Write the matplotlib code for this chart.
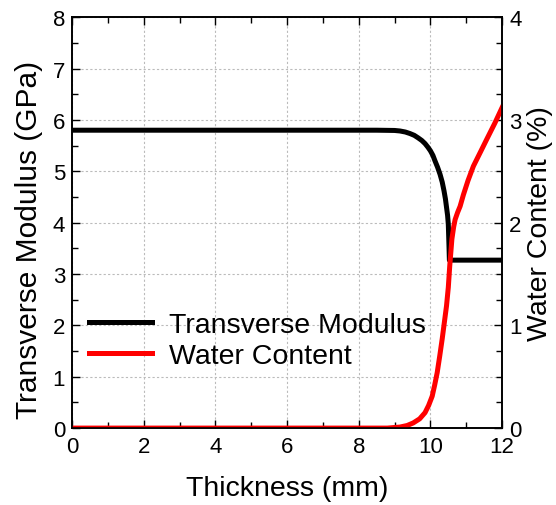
import matplotlib
matplotlib.use("Agg")
import matplotlib.pyplot as plt
from matplotlib.ticker import MultipleLocator

plt.rcParams['font.family'] = ['Liberation Sans', 'DejaVu Sans']

# transverse modulus (GPa) vs thickness (mm)
mod_x = [0, 8.5, 9.0, 9.15, 9.3, 9.43, 9.55, 9.66, 9.76, 9.85, 9.93, 10.0, 10.07, 10.13,
         10.2, 10.27, 10.33, 10.38, 10.42, 10.45, 10.48, 10.5, 10.52, 10.53, 12.0]
mod_y = [5.8, 5.8, 5.795, 5.785, 5.765, 5.735, 5.7, 5.65, 5.6, 5.54, 5.47, 5.4, 5.31, 5.2,
         5.08, 4.94, 4.79, 4.62, 4.46, 4.3, 4.14, 3.97, 3.52, 3.27, 3.27]

# water content (%) vs thickness (mm)
wc_x = [0, 8.8, 9.15, 9.35, 9.52, 9.7, 9.85, 9.95, 10.05, 10.12, 10.19, 10.26, 10.33, 10.39,
        10.45, 10.5, 10.54, 10.6, 10.65, 10.69, 10.76, 10.83, 10.92, 11.05, 11.2, 11.4,
        11.57, 11.8, 12.0]
wc_y = [0, 0.0, 0.01, 0.025, 0.05, 0.09, 0.15, 0.22, 0.31, 0.42, 0.54, 0.7, 0.87, 1.03,
        1.19, 1.37, 1.58, 1.84, 1.96, 2.03, 2.1, 2.16, 2.27, 2.41, 2.55, 2.69,
        2.81, 2.97, 3.12]

fig = plt.figure(figsize=(5.56, 5.06), dpi=100)
ax = fig.add_axes([0.1295, 0.152, 0.7735, 0.812])
ax2 = ax.twinx()

l1, = ax.plot(mod_x, mod_y, color='black', lw=3.6, label='Transverse Modulus', solid_joinstyle='round')
l2, = ax2.plot(wc_x, wc_y, color='red', lw=3.6, label='Water Content', solid_joinstyle='round')

ax.set_xlim(0, 12)
ax.set_ylim(0, 8)
ax2.set_ylim(0, 4)

ax.xaxis.set_major_locator(MultipleLocator(2))
ax.xaxis.set_minor_locator(MultipleLocator(1))
ax.yaxis.set_major_locator(MultipleLocator(1))
ax.yaxis.set_minor_locator(MultipleLocator(0.5))
ax2.yaxis.set_major_locator(MultipleLocator(1))
ax2.yaxis.set_minor_locator(MultipleLocator(0.25))

ax.tick_params(which='both', direction='in', top=True, right=False, labelsize=16)
ax.tick_params(axis='x', pad=6)
ax.tick_params(axis='y', pad=5)
ax.tick_params(which='major', length=6, width=1)
ax.tick_params(which='minor', length=4, width=1)
ax2.tick_params(which='both', direction='in', labelsize=16, pad=5)
ax2.tick_params(which='major', length=6, width=1)
ax2.tick_params(which='minor', length=4, width=1)

ax.grid(True, which='major', color='#bbbbbb', linestyle=(0, (2, 2)), linewidth=0.8)

for a in (ax, ax2):
    for s in a.spines.values():
        s.set_linewidth(1.2)

ax.set_xlabel('Thickness (mm)', fontsize=20.5, labelpad=13)
ax.set_ylabel('Transverse Modulus (GPa)', fontsize=21.5, labelpad=7)
ax.yaxis.label.set_y(0.461)
ax2.set_ylabel('Water Content (%)', fontsize=20.5, labelpad=4)

ax.legend(handles=[l1, l2], loc='lower left', bbox_to_anchor=(0.0, 0.103), frameon=False,
          fontsize=20.5, handlelength=2.2, handletextpad=0.6, labelspacing=0.15,
          borderaxespad=0.2)

fig.savefig('out.png', dpi=100)
